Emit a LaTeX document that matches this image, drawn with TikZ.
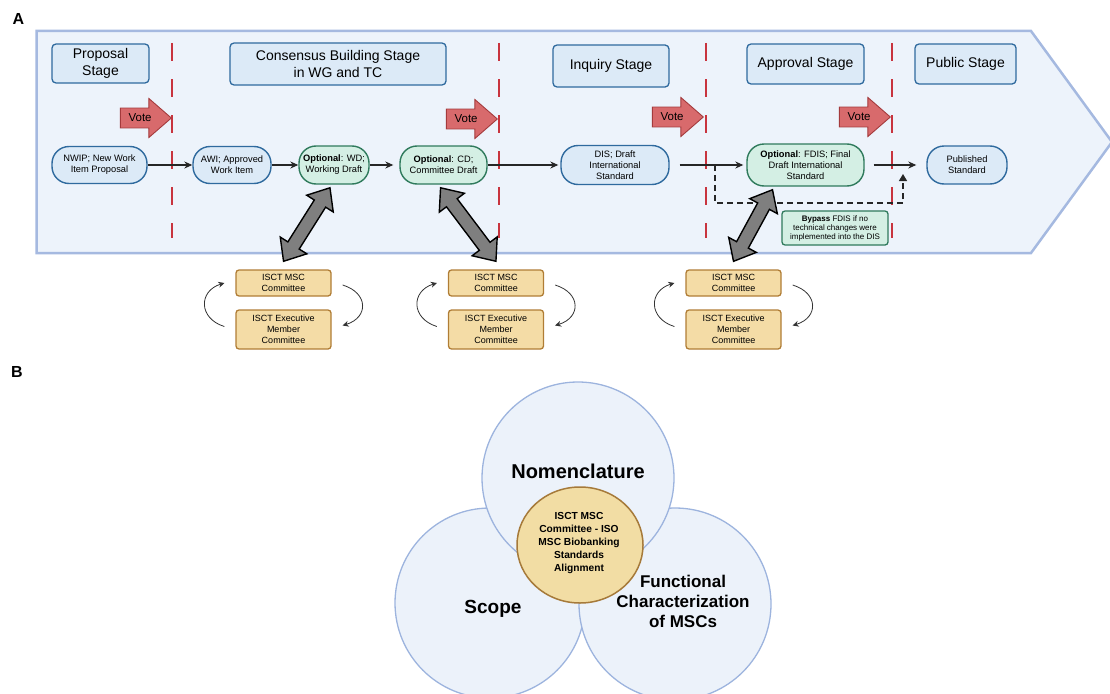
\documentclass[tikz,border=0pt]{standalone}
\usepackage{fontspec}
\setmainfont{Liberation Sans}
\usetikzlibrary{calc,arrows.meta,shapes.arrows,positioning}
\definecolor{panelfill}{HTML}{EDF3FB}
\definecolor{panelline}{HTML}{A5B9E0}
\definecolor{stagefill}{HTML}{DCEAF7}
\definecolor{stageline}{HTML}{2F6A9E}
\definecolor{optfill}{HTML}{D4EFE4}
\definecolor{optline}{HTML}{2F7A5C}
\definecolor{votefill}{HTML}{D86A6C}
\definecolor{voteline}{HTML}{A43A3C}
\definecolor{redline}{HTML}{C8343E}
\definecolor{fatgray}{HTML}{7F7F7F}
\definecolor{iscfill}{HTML}{F4DCA6}
\definecolor{iscline}{HTML}{B07D35}
\definecolor{vennfill}{HTML}{ECF2FA}
\definecolor{vennline}{HTML}{9DB4DE}
\definecolor{corefill}{HTML}{F2DDA4}
\definecolor{coreline}{HTML}{A67A3A}

\begin{document}
\begin{tikzpicture}[x=1pt,y=-1pt,
	stage/.style={rectangle,draw=stageline,fill=stagefill,line width=1.3pt,rounded corners=4pt,inner sep=0pt,align=center,font=\fontsize{14}{16.5}\selectfont},
	pill/.style={rectangle,draw=stageline,fill=stagefill,line width=1.4pt,rounded corners=17pt,inner sep=0pt,align=center,minimum height=37pt,font=\fontsize{9.3}{11}\selectfont},
	optpill/.style={pill,draw=optline,fill=optfill},
	bybox/.style={rectangle,draw=optline,fill=optfill,line width=1.3pt,rounded corners=3pt,inner sep=0pt,align=center,font=\fontsize{8}{9}\selectfont},
	vote/.style={single arrow,draw=voteline,fill=votefill,line width=0.9pt,inner xsep=3pt,inner ysep=5.5pt,single arrow head extend=9.5pt,single arrow tip angle=82,minimum height=51pt,anchor=tip,font=\fontsize{11.5}{13}\selectfont},
	fatarrow/.style={double arrow,draw=black,fill=fatgray,line width=1.4pt,inner sep=6pt,double arrow head extend=9pt,double arrow tip angle=80},
	isct/.style={rectangle,draw=iscline,fill=iscfill,line width=1.3pt,rounded corners=3pt,inner sep=0pt,minimum width=95pt,align=center,font=\fontsize{9}{11}\selectfont},
	flow/.style={-{Stealth[length=8pt,width=7pt]},line width=1.1pt,black!85},
	cyc/.style={-{Stealth[length=6pt,width=6pt]},line width=0.8pt,black!80},
	bypass/.style={-{Triangle[length=7pt,width=8pt]},line width=1.3pt,dash pattern=on 6pt off 4pt,black!85},
	vennc/.style={draw=vennline,fill=vennfill,line width=1.3pt},
	vtext/.style={align=center,font=\bfseries}]
	\useasboundingbox (0,0) rectangle (1110,693);
	%%panel A
	\draw [panelline,line width=2.5pt,fill=panelfill] (36.5,31) -- (1031,31) -- (1112,142) -- (1031,253) -- (36.5,253) -- cycle;
	\node at (18.5,19) [font=\fontsize{16}{16}\selectfont\bfseries] (la) {A};
	%%stage borders
	\foreach \x in {172,499,706,892}
		\draw [redline,line width=1.3pt,dash pattern=on 18pt off 18pt] (\x,43) -- (\x,238);
	%%stage headers
	\node at (100.5,63.5) [stage,minimum width=97pt,minimum height=39pt] (s1) {Proposal\\Stage};
	\node at (338,64) [stage,minimum width=216pt,minimum height=42pt] (s2) {Consensus Building Stage\\in WG and TC};
	\node at (611,66) [stage,minimum width=116pt,minimum height=42pt] (s3) {Inquiry Stage};
	\node at (805.5,64) [stage,minimum width=117pt,minimum height=40pt] (s4) {Approval Stage};
	\node at (965.5,64) [stage,minimum width=101pt,minimum height=40pt] (s5) {Public Stage};
	%%votes
	\node at (172,118) [vote] (v1) {Vote};
	\node at (498,119) [vote] (v2) {Vote};
	\node at (704,117) [vote] (v3) {Vote};
	\node at (891,117) [vote] (v4) {Vote};
	%%documents
	\node at (99.5,165) [pill,minimum width=95pt] (nwip) {NWIP; New Work\\Item Proposal};
	\node at (232,165) [pill,minimum width=78pt] (awi) {AWI; Approved\\Work Item};
	\node at (334,165) [optpill,minimum width=70pt,minimum height=38pt] (wd) {\textbf{Optional}: WD;\\Working Draft};
	\node at (443.5,165) [optpill,minimum width=87pt,minimum height=38pt] (cd) {\textbf{Optional}: CD;\\Committee Draft};
	\node at (615,165) [pill,minimum width=108pt,minimum height=39pt] (dis) {DIS; Draft\\International\\Standard};
	\node at (805.5,165) [optpill,minimum width=117pt,minimum height=42pt] (fdis) {\textbf{Optional}: FDIS; Final\\Draft International\\Standard};
	\node at (967,165) [pill,minimum width=80pt,minimum height=38pt] (pub) {Published\\Standard};
	\draw [flow] (nwip) -- (awi);
	\draw [flow] (awi) -- (wd);
	\draw [flow,shorten >=6pt] (wd) -- (cd);
	\draw [flow,shorten >=2pt] (cd) -- (dis);
	\draw [flow,shorten <=10pt,shorten >=3pt] (dis) -- (fdis);
	\draw [flow,shorten <=9pt,shorten >=10pt] (fdis) -- (pub);
	%%bypass
	\coordinate (by1) at (715,165);
	\coordinate (by2) at (903,174);
	\draw [bypass] (by1) |- ($(by2)+(0,29)$) -- (by2);
	\node at (835,228) [bybox,minimum width=106pt,minimum height=34pt] (byp) {\textbf{Bypass} FDIS if no\\technical changes were\\implemented into the DIS};
	%%committees
	\foreach \i/\x in {1/283.5,2/496,3/733.5}{
		\node at (\x,283) [isct,minimum height=26pt] (msc\i) {ISCT MSC\\Committee};
		\node at (\x,329.5) [isct,minimum height=39pt] (exe\i) {ISCT Executive\\Member\\Committee};
		\draw [cyc] ($(exe\i.west)+(-11,-3)$) .. controls +(-26,-8) and +(-26,8) .. ($(msc\i.west)+(-11,0)$);
		\draw [cyc] ($(msc\i.east)+(11,2)$) .. controls +(26,8) and +(26,-8) .. ($(exe\i.east)+(11,-4)$);
	}
	\foreach \a/\b/\s in {wd/msc1/-4,cd/msc2/-3,fdis/msc3/-33}
		\path let \p1=($(\a.south)+(\s,3)$), \p2=($(\b.north)+(0,-8)$), \p3=($(\p1)-(\p2)$), \n1={atan2(\y3,\x3)}, \n2={veclen(\x3,\y3)} in node [fatarrow,rotate=\n1,minimum height=\n2] at ($(\p1)!0.5!(\p2)$) {};
	%%panel B
	\node at (17,372) [font=\fontsize{16}{16}\selectfont\bfseries] (lb) {B};
	\draw [vennc] (490,603) circle [radius=95pt];
	\draw [vennc] (675,604) circle [radius=96pt];
	\draw [vennc] (578,478) circle [radius=96pt];
	\draw [draw=coreline,fill=corefill,line width=1.5pt] (580,545) ellipse [x radius=63pt,y radius=58pt];
	\node at (578,471) [vtext,font=\fontsize{20}{24}\selectfont\bfseries] (nom) {Nomenclature};
	\node at (493,609) [vtext,font=\fontsize{19}{22}\selectfont\bfseries] (scope) {Scope};
	\node at (683,601) [vtext,font=\fontsize{17}{20}\selectfont\bfseries] (func) {Functional\\Characterization\\of MSCs};
	\node at (579,543) [vtext,font=\fontsize{10.2}{13}\selectfont\bfseries] (core) {ISCT MSC\\Committee - ISO\\MSC Biobanking\\Standards\\Alignment};
\end{tikzpicture}
\end{document}
